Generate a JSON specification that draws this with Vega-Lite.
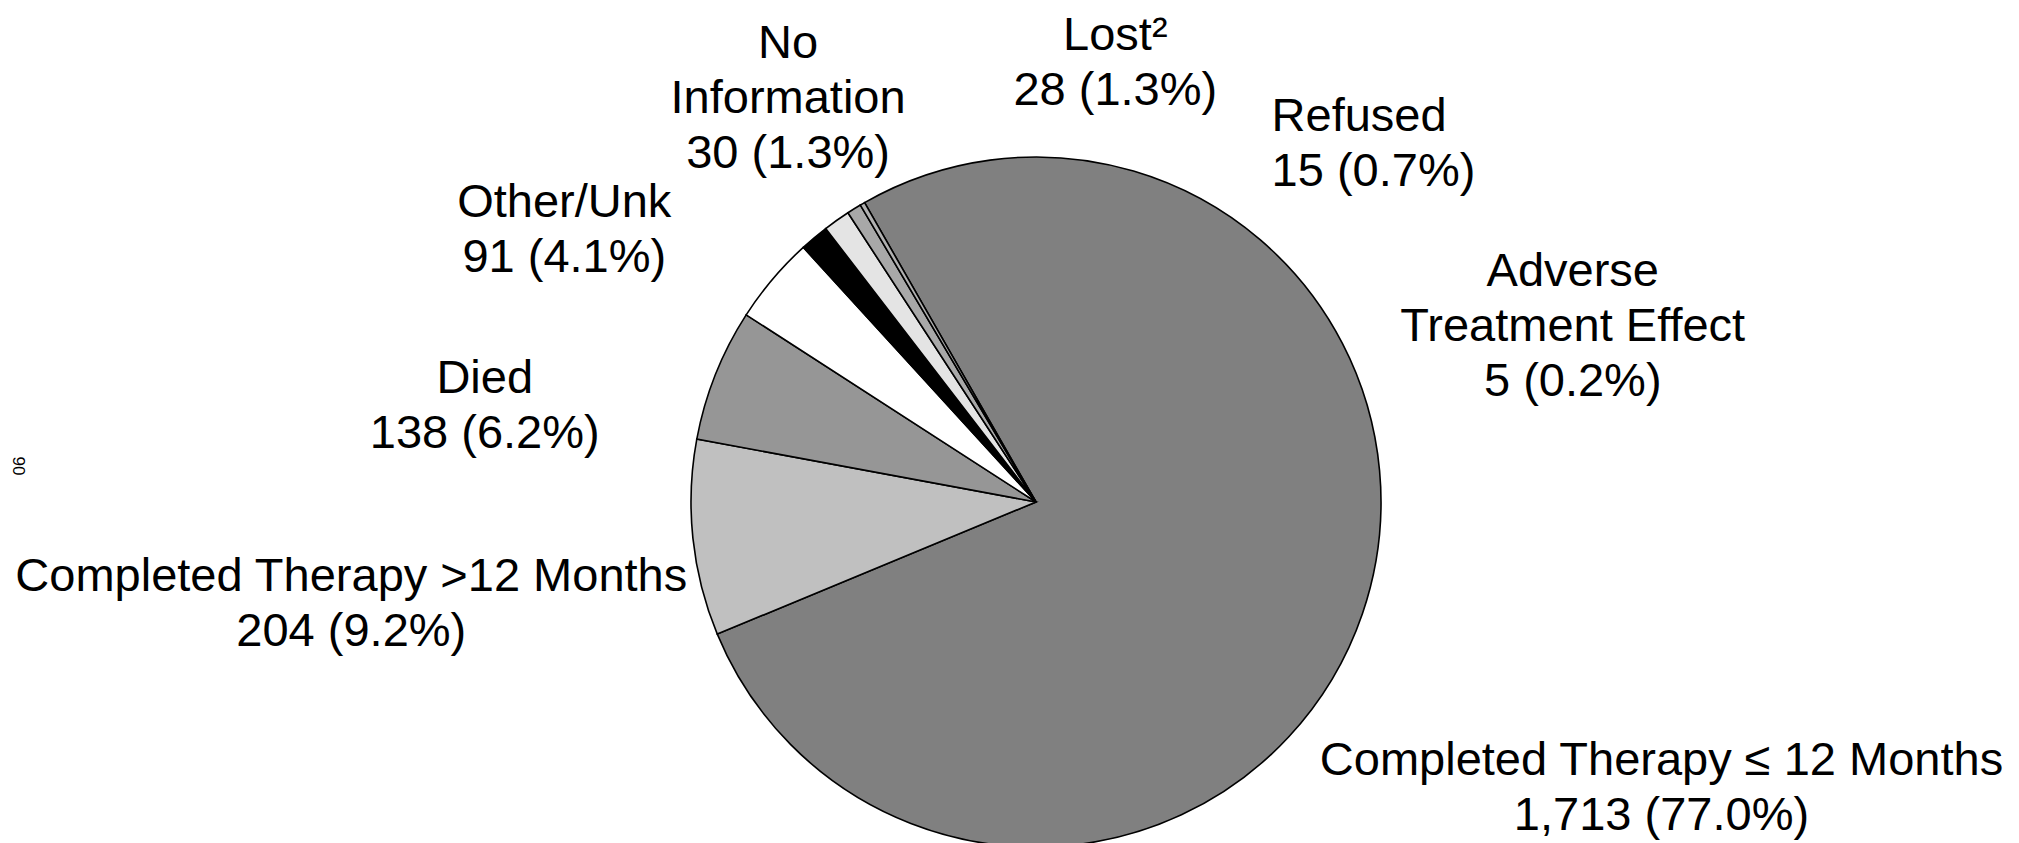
{
  "$schema": "https://vega.github.io/schema/vega-lite/v6.json",
  "width": 1966,
  "height": 682,
  "autosize": {"type": "none"},
  "padding": {"left": 53, "top": 161, "right": 0, "bottom": 0},
  "background": "white",
  "config": {"view": {"stroke": null}},
  "title": {"text": "90", "orient": "left", "angle": 90, "fontSize": 17, "font": "Liberation Sans", "fontWeight": "normal", "color": "black", "anchor": "middle", "offset": -10, "dx": -36, "dy": -18},
  "data": {
    "values": [
      {"rank": 1, "cat": "Completed Therapy ≤12 Months", "count": 1713, "label": "Completed Therapy ≤ 12 Months\n1,713 (77.0%)"},
      {"rank": 2, "cat": "Completed Therapy >12 Months", "count": 204, "label": "Completed Therapy >12 Months\n204 (9.2%)"},
      {"rank": 3, "cat": "Died", "count": 138, "label": "Died\n138 (6.2%)"},
      {"rank": 4, "cat": "Other/Unk", "count": 91, "label": "Other/Unk\n91 (4.1%)"},
      {"rank": 5, "cat": "No Information", "count": 30, "label": "No\nInformation\n30 (1.3%)"},
      {"rank": 6, "cat": "Lost", "count": 28, "label": "Lost²\n28 (1.3%)"},
      {"rank": 7, "cat": "Refused", "count": 15, "label": "Refused\n15 (0.7%)"},
      {"rank": 8, "cat": "Adverse Treatment Effect", "count": 5, "label": "Adverse\nTreatment Effect\n5 (0.2%)"}
    ]
  },
  "encoding": {
    "theta": {"field": "count", "type": "quantitative", "stack": true, "scale": {"range": [-0.52, 5.7632]}},
    "order": {"field": "rank", "type": "ordinal"}
  },
  "layer": [
    {
      "mark": {"type": "arc", "outerRadius": 345, "stroke": "black", "strokeWidth": 1.6},
      "encoding": {
        "fill": {
          "field": "cat",
          "type": "nominal",
          "legend": null,
          "scale": {
            "domain": ["Completed Therapy ≤12 Months", "Completed Therapy >12 Months", "Died", "Other/Unk", "No Information", "Lost", "Refused", "Adverse Treatment Effect"],
            "range": ["#808080", "#c0c0c0", "#969696", "#ffffff", "#000000", "#e4e4e4", "#a8a8a8", "#b0b0b0"]
          }
        }
      }
    },
    {
      "mark": {
        "type": "text",
        "radius": 420,
        "font": "Liberation Sans",
        "fontSize": 47,
        "lineBreak": "\n",
        "lineHeight": 55,
        "baseline": "middle",
        "color": "black",
        "align": {"expr": "datum.rank == 7 ? 'left' : 'center'"},
        "dx": {"expr": "datum.rank == 1 ? 228 : datum.rank == 2 ? -267 : datum.rank == 3 ? -161 : datum.rank == 4 ? -151 : datum.rank == 5 ? 22 : datum.rank == 6 ? 322 : datum.rank == 7 ? 457 : 748"},
        "dy": {"expr": "datum.rank == 1 ? 123 : datum.rank == 2 ? 31 : datum.rank == 3 ? 32 : datum.rank == 4 ? -28 : datum.rank == 5 ? -136 : datum.rank == 6 ? -123 : datum.rank == 7 ? -28 : 133"}
      },
      "encoding": {"text": {"field": "label", "type": "nominal"}}
    }
  ]
}
